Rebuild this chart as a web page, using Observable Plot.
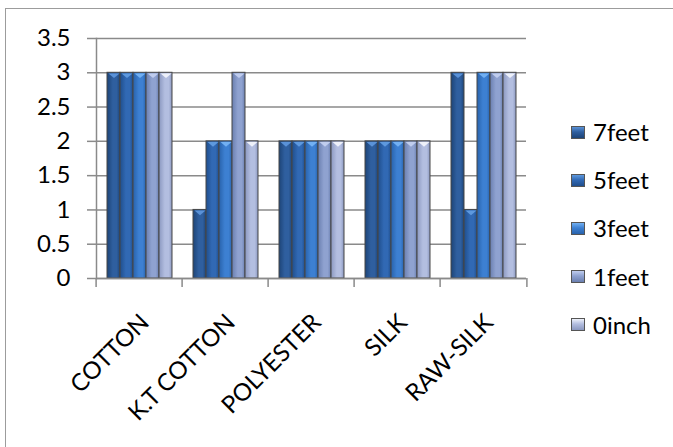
<!DOCTYPE html>
<html><head><meta charset="utf-8">
<script src="https://cdn.jsdelivr.net/npm/d3@7"></script>
<script src="https://cdn.jsdelivr.net/npm/@observablehq/plot@0.6"></script>
<style>
html,body{margin:0;padding:0;background:#fff;overflow:hidden;}
#wrap{position:relative;width:673px;height:447px;overflow:hidden;font-family:Lato,sans-serif;}
#border{position:absolute;left:5px;top:8px;width:720px;height:520px;border:1.5px solid #9c9c9c;box-sizing:border-box;}
#chart{position:absolute;left:0;top:0;}
#legend{position:absolute;left:571px;top:0;}
.item{position:absolute;left:0;display:flex;align-items:center;white-space:nowrap;font-size:24px;line-height:24px;height:24px;color:#000;}
.sw{width:14px;height:13px;margin-right:8px;box-sizing:border-box;border:1px solid #555;}
</style></head><body><div id="wrap"><div id="border"></div><div id="chart"></div><div id="legend"></div></div>
<script>
// ---- data ----
const categories = ["COTTON", "K.T COTTON", "POLYESTER", "SILK", "RAW-SILK"];
const series = ["7feet", "5feet", "3feet", "1feet", "0inch"];
const v7feet = [3, 1, 2, 2, 3];
const v5feet = [3, 2, 2, 2, 1];
const v3feet = [3, 2, 2, 2, 3];
const v1feet = [3, 3, 2, 2, 3];
const v0inch = [3, 2, 2, 2, 3];
const yTicks = [0, 0.5, 1, 1.5, 2, 2.5, 3, 3.5];

// ---- styles ----
const darkCols  = ["#1d4477", "#1f4e8c", "#2862ab", "#6a7fb0", "#8b98c0"];
const midCols   = ["#2f5f9f", "#3169b4", "#3d80d2", "#8fa2d0", "#b3bee0"];
const triCols   = ["#5a92d8", "#5e99de", "#72b0f2", "#c0cdee", "#eef1fa"];

const values = [v7feet, v5feet, v3feet, v1feet, v0inch];
const rows = categories.flatMap((c, i) => series.map((s, j) => ({category: c, series: s, value: values[j][i]})));

const W = 673, H = 447;
const mL = 94, mR = 145, mT = 38, mB = H - 278;
const step = (W - mL - mR) / categories.length;
const grid = "#8a8a8a";

const tri = {draw(ctx, size) {
  const r = Math.sqrt(size / Math.PI);
  ctx.moveTo(-r, -r * 0.42); ctx.lineTo(r, -r * 0.42); ctx.lineTo(0, r * 0.42); ctx.closePath();
}};

const chart = Plot.plot({
  width: W, height: H,
  marginLeft: mL, marginRight: mR, marginTop: mT, marginBottom: mB,
  style: {fontFamily: "Lato, sans-serif", fontSize: "24px", color: "#000", background: "transparent", overflow: "visible"},
  fx: {domain: categories, padding: 0, label: null},
  x: {domain: series, paddingInner: 0, paddingOuter: 0.75, axis: null},
  y: {domain: [0, 3.5], label: null},
  color: {domain: series, range: series.map((s, i) => `url(#grad${i})`)},
  marks: [
    Plot.gridY(yTicks, {stroke: grid, strokeOpacity: 1, strokeWidth: 1.5}),
    Plot.axisY({ticks: yTicks, tickSize: 9, tickPadding: 17, stroke: grid, strokeWidth: 1.5, fontSize: 24, fill: "#000", label: null, tickFormat: d => String(d)}),
    Plot.barY(rows, {fx: "category", x: "series", y: "value", fill: "series", stroke: "#474747", strokeWidth: 1}),
    ...series.map((s, i) => Plot.dot(rows.filter(d => d.series === s), {fx: "category", x: "series", y: "value", symbol: tri, r: 5.5, fill: triCols[i], stroke: "none", dy: 3})),
    Plot.ruleY([0], {stroke: grid, strokeWidth: 1.5}),
    Plot.frame({anchor: "left", facetAnchor: "left", stroke: grid, strokeWidth: 1.5}),
    Plot.axisFx({anchor: "bottom", tickSize: 9, tickFormat: () => "", dx: -step / 2, stroke: grid, strokeWidth: 1.5, label: null}),
    Plot.axisFx({anchor: "bottom", ticks: [categories[categories.length - 1]], tickSize: 9, tickFormat: () => "", dx: step / 2, stroke: grid, strokeWidth: 1.5, label: null}),
    Plot.axisFx({anchor: "bottom", tickSize: 0, tickPadding: 40, tickRotate: -45, dx: 5.5, fontSize: 24, fill: "#000", label: null})
  ]
});

const svg = d3.select(chart);
const defs = svg.insert("defs", ":first-child");
series.forEach((s, i) => {
  const g = defs.append("linearGradient").attr("id", `grad${i}`).attr("x1", 0).attr("x2", 1).attr("y1", 0).attr("y2", 0);
  g.append("stop").attr("offset", "0%").attr("stop-color", darkCols[i]);
  g.append("stop").attr("offset", "45%").attr("stop-color", midCols[i]);
  g.append("stop").attr("offset", "75%").attr("stop-color", midCols[i]);
  g.append("stop").attr("offset", "100%").attr("stop-color", darkCols[i]);
});
document.getElementById("chart").appendChild(chart);

// ---- legend ----
const legend = document.getElementById("legend");
series.forEach((s, i) => {
  const item = document.createElement("div");
  item.className = "item";
  item.style.top = (132 + i * 48.2 - 12) + "px";
  const sw = document.createElement("span");
  sw.className = "sw";
  sw.style.background = `linear-gradient(to bottom, ${triCols[i]} 0%, ${midCols[i]} 45%, ${darkCols[i]} 100%)`;
  const t = document.createElement("span");
  t.textContent = s;
  item.appendChild(sw); item.appendChild(t);
  legend.appendChild(item);
});
</script>
</body></html>
